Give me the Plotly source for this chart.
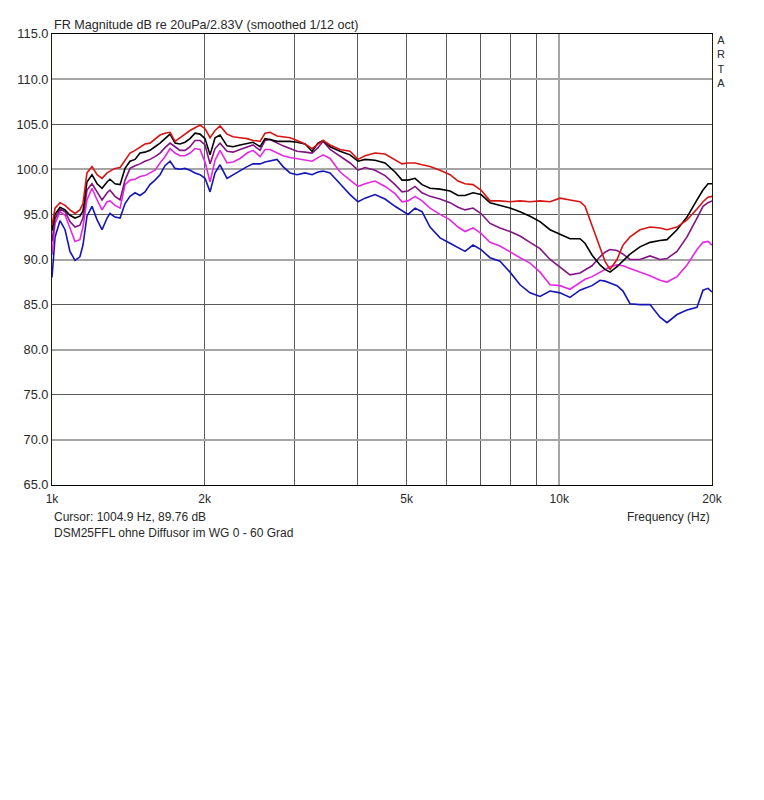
#ARTA style frequency response, DSM25FFL without diffusor in WG, 0 - 60 deg

import plotly.graph_objects as go

#Frequency points (Hz)
freq = [
    1000, 1014, 1037, 1061, 1085, 1110, 1135, 1151, 1172, 1199,
    1227, 1255, 1284, 1301, 1331, 1362, 1393, 1425, 1458, 1491,
    1525, 1560, 1596, 1633, 1670, 1709, 1748, 1788, 1829, 1871,
    1914, 1958, 2003, 2049, 2096, 2144, 2213, 2274, 2348, 2424,
    2491, 2571, 2630, 2690, 2777, 2854, 2946, 3041, 3154, 3256,
    3345, 3422, 3533, 3697, 3868, 4011, 4141, 4333, 4534, 4745,
    4898, 5033, 5196, 5363, 5562, 5820, 6090, 6315, 6519, 6760,
    7010, 7302, 7641, 7996, 8367, 8756, 9162, 9588, 10033, 10499,
    10986, 11238, 11601, 12030, 12306, 12589, 12996, 13354, 13785, 14424,
    15094, 15795, 16305, 17062, 17855, 18684, 19201, 19642, 20000
]

#Magnitude in dB, one list per curve
db_red = [
    93.8, 95.7, 96.3, 96.0, 95.5, 95.1, 95.5, 96.2, 99.6, 100.3,
    99.4, 99.0, 99.6, 99.8, 100.1, 100.2, 101.0, 101.8, 102.1, 102.5,
    102.8, 102.9, 103.3, 103.8, 104.0, 104.1, 103.1, 103.5, 104.0, 104.3,
    104.6, 104.9, 104.5, 103.5, 104.3, 104.8, 103.9, 103.6, 103.5, 103.4,
    103.2, 103.1, 104.0, 104.1, 103.7, 103.6, 103.5, 103.2, 102.8, 102.3,
    102.8, 103.2, 102.7, 102.2, 102.0, 101.1, 101.5, 101.8, 101.7, 101.0,
    100.6, 100.7, 100.7, 100.5, 100.3, 99.9, 99.4, 98.7, 98.4, 98.3,
    97.7, 96.5, 96.5, 96.4, 96.5, 96.4, 96.5, 96.4, 96.8, 96.6,
    96.4, 95.9, 93.8, 91.3, 89.8, 88.9, 90.0, 91.6, 92.5, 93.3,
    93.6, 93.5, 93.3, 93.6, 94.4, 95.6, 96.4, 96.9, 97.0
]
db_black = [
    93.2, 95.0, 95.8, 95.5, 94.9, 94.6, 94.8, 95.4, 98.6, 99.4,
    98.4, 97.9, 98.6, 98.9, 98.4, 98.3, 100.1, 100.9, 101.1, 101.8,
    101.9, 102.1, 102.5, 102.9, 103.4, 103.9, 102.9, 102.8, 103.0, 103.4,
    104.0, 103.9, 103.4, 101.6, 103.5, 103.8, 102.6, 102.5, 102.7, 102.9,
    103.0, 102.5, 103.4, 103.3, 103.1, 103.1, 103.1, 103.0, 102.8, 102.0,
    102.9, 103.2, 102.5, 102.0, 101.6, 100.9, 101.1, 101.0, 100.7, 99.7,
    98.8, 98.8, 99.0, 98.3, 97.9, 97.8, 97.6, 97.1, 97.1, 97.4,
    97.2, 96.3, 96.0, 95.7, 95.3, 94.8, 94.2, 93.3, 92.8, 92.3,
    92.3, 91.8, 90.5, 89.4, 88.9, 88.6, 89.2, 89.9, 90.6, 91.4,
    91.9, 92.1, 92.2, 93.3, 94.7, 96.6, 97.7, 98.4, 98.4
]
db_purple = [
    92.0, 94.5, 95.6, 95.3, 94.2, 93.6, 93.8, 94.6, 97.7, 98.4,
    97.5, 96.6, 97.4, 97.7, 97.0, 96.6, 98.8, 100.1, 100.4, 100.6,
    100.9, 101.1, 101.4, 101.8, 102.4, 102.9, 102.5, 102.1, 102.1, 102.5,
    103.2, 103.2, 102.7, 100.6, 102.3, 102.9, 102.0, 101.9, 102.2, 102.5,
    102.7, 102.1, 103.2, 103.3, 102.9, 102.6, 102.3, 102.0, 101.9, 101.8,
    102.4, 103.1, 102.2, 101.4, 100.7, 99.9, 100.2, 99.9, 99.3, 98.3,
    97.5, 97.6, 98.1, 97.4, 97.0, 96.7, 96.3, 95.8, 95.5, 95.7,
    95.1, 94.0, 93.5, 93.1, 92.6, 91.9, 91.2, 90.0, 89.2, 88.3,
    88.5, 88.8, 89.3, 90.3, 90.8, 91.1, 91.0, 90.6, 90.0, 90.0,
    90.4, 90.0, 90.1, 90.9, 92.5, 94.6, 95.9, 96.3, 96.5
]
db_magenta = [
    90.5, 94.0, 95.3, 94.9, 93.5, 92.0, 92.2, 93.6, 96.6, 97.9,
    96.6, 95.5, 96.4, 96.5, 96.0, 95.7, 98.3, 98.8, 98.9, 99.2,
    99.3, 99.6, 99.9, 100.7, 101.4, 102.3, 101.8, 101.5, 101.5, 101.8,
    102.3, 102.2, 100.8, 98.6, 101.0, 102.1, 100.7, 100.8, 101.2, 101.8,
    102.1, 101.4, 102.2, 102.2, 101.8, 101.5, 101.3, 101.2, 101.0, 100.9,
    101.3, 101.6, 101.2, 99.7, 98.8, 98.1, 98.4, 98.7, 98.1, 97.3,
    96.4, 96.5, 97.0, 96.5, 95.7, 95.0, 94.4, 93.6, 93.1, 93.5,
    92.9, 91.9, 91.5, 90.8, 90.2, 89.6, 88.6, 87.2, 87.1, 86.7,
    87.5, 87.8, 88.1, 88.6, 88.9, 89.2, 89.4, 89.3, 89.0, 88.6,
    88.2, 87.7, 87.5, 88.1, 89.4, 91.1, 91.9, 92.0, 91.6
]
db_blue = [
    88.0, 92.5, 94.3, 93.3, 90.9, 89.9, 90.3, 91.6, 94.8, 95.9,
    94.4, 93.3, 94.6, 95.1, 94.7, 94.6, 96.2, 97.0, 97.4, 97.1,
    97.5, 98.3, 98.8, 99.4, 100.4, 100.9, 100.1, 100.0, 100.1, 99.9,
    99.6, 99.4, 99.0, 97.5, 99.6, 100.5, 99.0, 99.4, 99.8, 100.3,
    100.6, 100.6, 100.8, 100.9, 101.1, 100.3, 99.6, 99.4, 99.6, 99.4,
    99.7, 99.8, 99.6, 98.4, 97.2, 96.4, 96.8, 97.2, 96.7, 95.9,
    95.4, 95.0, 95.7, 95.3, 93.6, 92.4, 91.8, 91.3, 90.9, 91.6,
    91.1, 90.2, 89.8, 88.6, 87.2, 86.3, 85.9, 86.5, 86.3, 85.8,
    86.6, 86.8, 87.1, 87.7, 87.6, 87.4, 87.1, 86.5, 85.1, 85.0,
    85.0, 83.6, 83.0, 83.9, 84.4, 84.7, 86.6, 86.8, 86.4
]

#Axis ticks
x_tickvals = [1000, 2000, 5000, 10000, 20000]
x_ticktext = ['1k', '2k', '5k', '10k', '20k']
x_minor_grid = [2000, 3000, 4000, 5000, 6000, 7000, 8000, 9000]
x_major_grid = [10000]
y_tickvals = [65, 70, 75, 80, 85, 90, 95, 100, 105, 110, 115]
y_minor_grid = [75, 85, 95, 105]
y_major_grid = [70, 80, 90, 100, 110]

y_data = [db_blue, db_magenta, db_purple, db_black, db_red]
names = ['60 Grad', '45 Grad', '30 Grad', '15 Grad', '0 Grad']
color_data = [
    'rgb(20, 20, 185)', 'rgb(230, 40, 230)', 'rgb(130, 20, 130)',
    'rgb(0, 0, 0)', 'rgb(215, 20, 20)'
]

FONT = 'Liberation Sans, Arial, sans-serif'
TXT = 'rgb(40, 40, 40)'
XR = [3, 4.30103]
YR = [65, 115]

fig = go.Figure()
#empty trace so the overlay grid axes get a subplot
fig.add_trace(go.Scatter(x=[], y=[], xaxis='x2', yaxis='y2',
                         showlegend=False, hoverinfo='skip'))
for i in range(0, 5):
    fig.add_trace(go.Scatter(
        x=freq,
        y=y_data[i],
        name=names[i],
        mode='lines',
        line=dict(width=1.6, color=color_data[i])))

#page body adds 8px, so the figure is 8px smaller than the window
fig.update_layout(
    width=756, height=792,
    margin=dict(l=44, r=52, t=26, b=315),
    paper_bgcolor='white', plot_bgcolor='white',
    showlegend=False,
    font=dict(family=FONT, size=12, color=TXT),
    xaxis=dict(
        type='log', range=XR, automargin=False,
        tickmode='array', tickvals=x_tickvals, ticktext=x_ticktext,
        ticks='', ticklabelstandoff=3,
        showgrid=False, zeroline=False,
        showline=True, mirror=True, linecolor='black', linewidth=1,
        minor=dict(tickmode='array', tickvals=x_minor_grid, showgrid=True,
                   gridcolor='rgb(90, 90, 90)', gridwidth=1, ticks='')),
    xaxis2=dict(
        type='log', range=XR, overlaying='x', anchor='y2', automargin=False,
        tickmode='array', tickvals=x_major_grid, showticklabels=False,
        ticks='', showgrid=True, gridcolor='rgb(165, 165, 165)', gridwidth=2,
        zeroline=False, showline=False),
    yaxis=dict(
        range=YR, tickmode='array', tickvals=y_tickvals, tickformat='.1f',
        tickfont=dict(size=12.8),
        ticks='', ticklabelstandoff=0, automargin=False,
        showgrid=False, zeroline=False,
        showline=True, mirror=True, linecolor='rgb(30, 30, 0)', linewidth=1,
        minor=dict(tickmode='array', tickvals=y_minor_grid, showgrid=True,
                   gridcolor='rgb(90, 90, 90)', gridwidth=1, ticks='')),
    yaxis2=dict(
        range=YR, overlaying='y', anchor='x2', automargin=False,
        tickmode='array', tickvals=y_major_grid, showticklabels=False,
        ticks='', showgrid=True, gridcolor='rgb(165, 165, 165)', gridwidth=2,
        zeroline=False, showline=False),
)

#Texts around the plot
notes = [
    dict(text='FR Magnitude dB re 20uPa/2.83V (smoothed 1/12 oct)',
         x=0, y=1.02, xanchor='left', yanchor='middle', size=12.6),
    dict(text='Cursor: 1004.9 Hz, 89.76 dB',
         x=0, y=-0.071, xanchor='left', yanchor='middle', size=12),
    dict(text='Frequency (Hz)',
         x=1, y=-0.071, xanchor='right', yanchor='middle', size=12),
    dict(text='DSM25FFL ohne Diffusor im WG 0 - 60 Grad',
         x=0, y=-0.106, xanchor='left', yanchor='middle', size=12),
    dict(text='A<br>R<br>T<br>A',
         x=1.013, y=0.938, xanchor='center', yanchor='middle', size=11),
]
for n in notes:
    sz = n.pop('size')
    fig.add_annotation(xref='paper', yref='paper', showarrow=False,
                       font=dict(family=FONT, size=sz, color=TXT), **n)

fig.write_html("out.html")
